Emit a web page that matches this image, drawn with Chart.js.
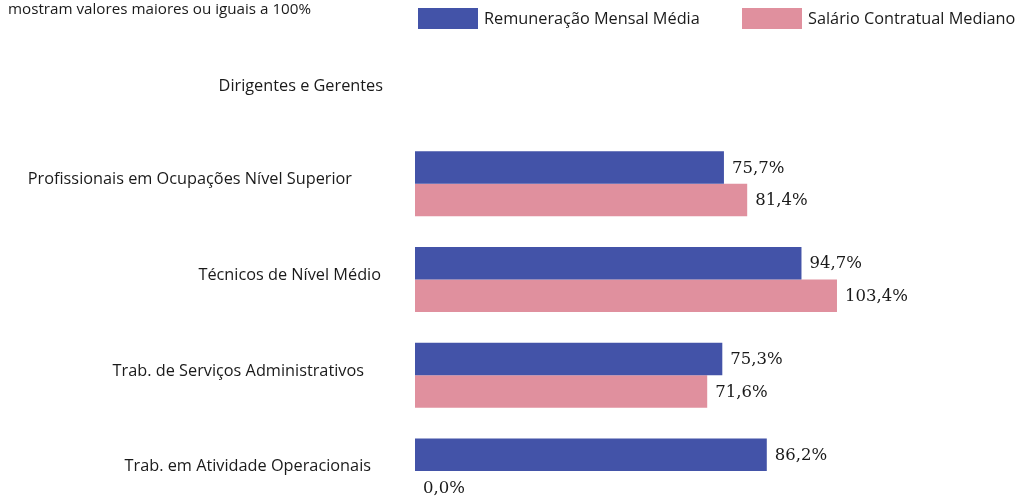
<!DOCTYPE html>
<html>
<head>
<meta charset="utf-8">
<script src="https://cdn.jsdelivr.net/npm/chart.js@4.4.1/dist/chart.umd.min.js"></script>
<style>
  html, body { margin: 0; padding: 0; background: #ffffff; overflow: hidden; }
  #wrap { position: relative; width: 1021px; height: 520px; }
</style>
</head>
<body>
<div id="wrap"><canvas id="c"></canvas></div>
<script>
// ---- data ----
const categories = [
  'Dirigentes e Gerentes',
  'Profissionais em Ocupações Nível Superior',
  'Técnicos de Nível Médio',
  'Trab. de Serviços Administrativos',
  'Trab. em Atividade Operacionais'
];
const seriesNames = ['Remuneração Mensal Média', 'Salário Contratual Mediano'];
const remuneracaoMedia = [null, 75.7, 94.7, 75.3, 86.2];
const salarioMediano = [null, 81.4, 103.4, 71.6, 0.0];
const noteText = 'mostram valores maiores ou iguais a 100%';

// ---- styling ----
const BLUE = '#4353a8';
const PINK = '#e0909e';
const SANS = '"Open Sans", Lato, sans-serif';
const SERIF = '"DejaVu Serif", "Liberation Serif", serif';

const textPlugin = {
  id: 'textPlugin',
  afterDraw(chart, args, opts) {
    const ctx = chart.ctx;
    ctx.save();
    // note text (top left)
    ctx.fillStyle = '#1a1a1a';
    ctx.font = '15.2px ' + SANS;
    ctx.textAlign = 'left';
    ctx.textBaseline = 'middle';
    ctx.fillText(noteText, 8, 9.5);

    // legend
    chart.data.datasets.forEach((ds, i) => {
      const bx = opts.legendX[i];
      ctx.fillStyle = ds.backgroundColor;
      ctx.fillRect(bx, 8, 60, 21);
      ctx.fillStyle = '#1a1a1a';
      ctx.font = '16.3px ' + SANS;
      ctx.textAlign = 'left';
      ctx.textBaseline = 'middle';
      ctx.fillText(ds.label, bx + 66, 19);
    });

    // category labels
    const yScale = chart.scales.y;
    ctx.font = '16.3px ' + SANS;
    ctx.fillStyle = '#1a1a1a';
    ctx.textAlign = 'right';
    ctx.textBaseline = 'middle';
    chart.data.labels.forEach((lab, i) => {
      const y = yScale.getPixelForValue(i) + opts.labelDy[i];
      ctx.fillText(lab, opts.labelRight[i], y);
    });

    // data labels
    ctx.font = '16.5px ' + SERIF;
    ctx.textAlign = 'left';
    chart.data.datasets.forEach((ds, di) => {
      const meta = chart.getDatasetMeta(di);
      meta.data.forEach((bar, i) => {
        const v = ds.data[i];
        if (v === null || v === undefined) return;
        const txt = v.toFixed(1).replace('.', ',') + '%';
        ctx.fillStyle = '#1a1a1a';
        ctx.fillText(txt, bar.x + 8, bar.y + 1);
      });
    });
    ctx.restore();
  }
};

new Chart(document.getElementById('c'), {
  type: 'bar',
  data: {
    labels: categories,
    datasets: [
      { label: seriesNames[0], data: remuneracaoMedia, backgroundColor: BLUE, borderWidth: 0 },
      { label: seriesNames[1], data: salarioMediano, backgroundColor: PINK, borderWidth: 0 }
    ]
  },
  options: {
    indexAxis: 'y',
    responsive: true,
    maintainAspectRatio: false,
    animation: false,
    layout: { padding: { left: 415, right: 2, top: 40, bottom: 1 } },
    datasets: { bar: { categoryPercentage: 0.68, barPercentage: 1.0 } },
    scales: {
      x: { display: false, min: 0, max: 148, grid: { display: false } },
      y: { display: false, grid: { display: false } }
    },
    plugins: {
      legend: { display: false },
      tooltip: { enabled: false },
      textPlugin: {
        legendX: [418, 742],
        labelRight: [383, 352, 381, 364, 371],
        labelDy: [-2, -4.5, -4.5, -4, -4.5]
      }
    }
  },
  plugins: [textPlugin]
});
</script>
</body>
</html>
